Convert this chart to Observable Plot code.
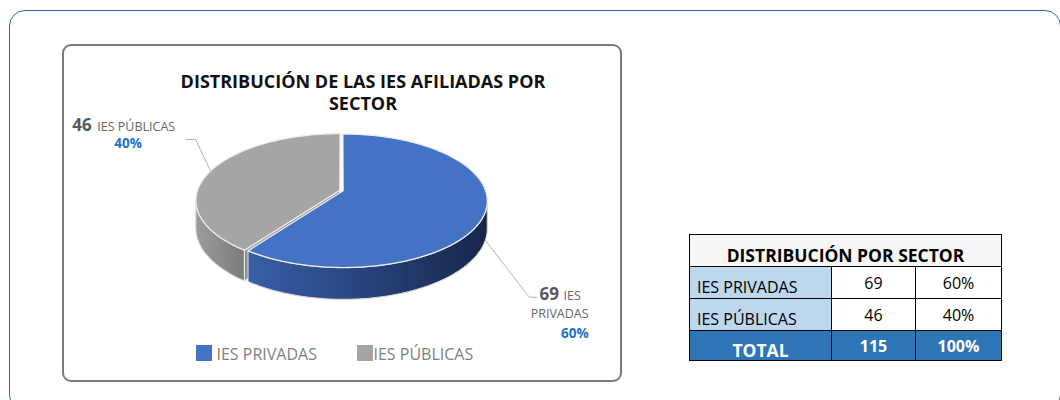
<!DOCTYPE html>
<html><head><meta charset="utf-8">
<script src="https://cdn.jsdelivr.net/npm/d3@7"></script>
<script src="https://cdn.jsdelivr.net/npm/@observablehq/plot@0.6"></script>
<style>
html,body{margin:0;padding:0;background:#fff;}
#page{position:relative;width:1060px;height:400px;overflow:hidden;font-family:"Open Sans",sans-serif;}
#outer{position:absolute;left:9px;top:10px;width:1052px;height:401px;box-sizing:border-box;border:1.6px solid #2b6cb3;border-radius:16px;}
#inner{position:absolute;left:62px;top:44px;width:560px;height:338px;box-sizing:border-box;border:2px solid #7b7b7b;border-radius:9px;}
#title{position:absolute;left:163px;top:70px;width:400px;text-align:center;font-weight:700;font-size:18px;line-height:22px;color:#111;}
#chart{position:absolute;left:0;top:0;}
.leg{position:absolute;top:345px;display:flex;align-items:flex-start;}
.leg .sw{width:16px;height:16px;margin-right:4px;}
.leg .tx{font-size:16px;line-height:16px;color:#7f7f7f;margin-top:0.8px;}
#tbl{position:absolute;left:689px;top:234px;border-collapse:collapse;table-layout:fixed;width:312px;border:1.5px solid #000;}
#tbl td{border:1px solid #000;padding:0;overflow:hidden;white-space:nowrap;color:#000;}
#tbl tr.hd td{height:30px;background:#f7f7f7;text-align:center;vertical-align:bottom;font-weight:700;font-size:17.5px;line-height:20px;padding-bottom:1px;}
#tbl tr.rw td{height:30px;font-size:16px;line-height:20px;}
#tbl td.lab{background:#bdd7ee;text-align:left;vertical-align:bottom;padding-left:7px;padding-bottom:1px;}
#tbl td.num{text-align:center;vertical-align:middle;}
#tbl tr.tt td{height:29px;background:#2e75b6;color:#fff;font-weight:700;font-size:16px;line-height:20px;text-align:center;vertical-align:middle;}
#tbl tr.tt td.ttl{font-size:17.5px;vertical-align:bottom;padding-bottom:0;}
</style></head>
<body>
<svg width="0" height="0" style="position:absolute">
  <defs>
    <linearGradient id="side0" x1="0" x2="1" y1="0" y2="0">
      <stop offset="0" stop-color="#3a5fa6"/>
      <stop offset="0.4" stop-color="#2a4884"/>
      <stop offset="1" stop-color="#17264a"/>
    </linearGradient>
    <linearGradient id="side1" x1="0" x2="1" y1="0" y2="0">
      <stop offset="0" stop-color="#9c9c9c"/>
      <stop offset="1" stop-color="#7b7b7b"/>
    </linearGradient>
  </defs>
</svg>
<div id="page">
  <div id="outer"></div>
  <div id="inner"></div>
  <div id="title"></div>
  <div id="chart"></div>
  <div id="legend"></div>
  <table id="tbl"><colgroup><col style="width:142px"><col style="width:84px"><col style="width:86px"></colgroup><tbody></tbody></table>
</div>
<script>
// ---- data ----
const categories = ["IES PRIVADAS", "IES PÚBLICAS"];
const values = [69, 46];
const colors = ["#4472C4", "#A5A5A5"];
const sideFills = ["url(#side0)", "url(#side1)"];
const faceFills = ["#2a4884", "#8f8f8f"];
const titleLines = ["DISTRIBUCIÓN DE LAS IES AFILIADAS POR", "SECTOR"];
const tableTitle = "DISTRIBUCIÓN POR SECTOR";
const totalLabel = "TOTAL";

const total = d3.sum(values);
const pct = values.map(v => Math.round(v / total * 100) + "%");

// ---- layout ----
const W = 1060, H = 400;
const CX = 341, CY = 190, R = 142.4, RY = 65.2, K = 0.15;
const DEPTH = 27 / RY, EXPLODE = 0.012;
const legendX = [196, 357];
// leader layout (pixel offsets)
const leaderLayout = [
  {elbow: [44, 57], end: [8, 0]},
  {elbow: [-15, -31.5], end: [-10, 0]}
];

function P(theta, ex, z = 0, r = 1) {
  const u = r * Math.sin(theta) + ex[0];
  const v = -r * Math.cos(theta) + ex[1];
  const s = 1 / (1 - K * v);
  return {x: u * s, y: (v + z) * s};
}
function arcPts(a0, a1, ex, z) {
  const n = Math.max(2, Math.ceil(Math.abs(a1 - a0) / (Math.PI / 180)));
  return d3.range(n + 1).map(i => P(a0 + (a1 - a0) * i / n, ex, z));
}

const arcs = d3.pie().sort(null).value(d => d)(values);
const TR = Math.acos(-K), TL = 2 * Math.PI - TR;

const slices = arcs.map((a, i) => {
  const a0 = a.startAngle, a1 = a.endAngle, m = (a0 + a1) / 2;
  const ex = [EXPLODE * Math.sin(m), -EXPLODE * Math.cos(m)];
  return {i, a0, a1, m, ex, mv: -Math.cos(m)};
});

const marks = [];
const order = slices.slice().sort((p, q) => p.mv - q.mv);
for (const s of order) {
  const {i, a0, a1, ex} = s;
  // side
  const s0 = Math.max(a0, TR), s1 = Math.min(a1, TL);
  if (s1 > s0) {
    const pts = arcPts(s0, s1, ex, 0).concat(arcPts(s1, s0, ex, DEPTH));
    marks.push(Plot.line(pts, {x: "x", y: "y", curve: "linear-closed", fill: sideFills[i], stroke: "#d6d6d6", strokeWidth: 1.1}));
  }
  // radial faces
  const faceAt = (a) => [P(a, ex, 0, 0), P(a, ex, 0), P(a, ex, DEPTH), P(a, ex, DEPTH, 0)];
  if (Math.sin(a0) < -1e-6) marks.push(Plot.line(faceAt(a0), {x: "x", y: "y", curve: "linear-closed", fill: faceFills[i], stroke: "#e6e6e6", strokeWidth: 1.1}));
  if (Math.sin(a1) > 1e-6) marks.push(Plot.line(faceAt(a1), {x: "x", y: "y", curve: "linear-closed", fill: faceFills[i], stroke: "#e6e6e6", strokeWidth: 1.1}));
  // top
  const top = [P(0, ex, 0, 0)].concat(arcPts(a0, a1, ex, 0));
  marks.push(Plot.line(top, {x: "x", y: "y", curve: "linear-closed", fill: colors[i], stroke: "#ececec", strokeWidth: 1.3}));
}

// leaders + labels
slices.forEach(s => {
  const front = s.mv > 0;
  const anc = P(s.m, s.ex, front ? DEPTH : 0);
  const L = leaderLayout[s.i];
  const elb = {x: anc.x + L.elbow[0] / R, y: anc.y + L.elbow[1] / RY};
  const end = {x: elb.x + L.end[0] / R, y: elb.y + L.end[1] / RY};
  marks.push(Plot.line([anc, elb, end], {x: "x", y: "y", stroke: "#b3b3b3", strokeWidth: 1, strokeLinecap: "butt"}));
  s.end = end;
});

const common = {x: "x", y: "y", lineAnchor: "bottom", fontFamily: "Open Sans"};
// slice 0 (right side, IES PRIVADAS)
{
  const e = slices[0].end, d = [e];
  const words = categories[0].split(" ");
  marks.push(Plot.text(d, {...common, text: () => String(values[0]), textAnchor: "start", dx: 2.3, dy: 2.3, fontSize: 17, fontWeight: 700, fill: "#595959"}));
  marks.push(Plot.text(d, {...common, text: () => words[0], textAnchor: "start", dx: 26.3, dy: 2.3, fontSize: 12.5, fill: "#666"}));
  marks.push(Plot.text(d, {...common, text: () => words.slice(1).join(" "), textAnchor: "end", dx: 51.3, dy: 20.3, fontSize: 12.5, fill: "#666"}));
  marks.push(Plot.text(d, {...common, text: () => pct[0], textAnchor: "end", dx: 51.3, dy: 40.3, fontSize: 13.5, fontWeight: 700, fill: "#1f72c4"}));
}
// slice 1 (left side, IES PÚBLICAS)
{
  const e = slices[1].end, d = [e];
  marks.push(Plot.text(d, {...common, text: () => String(values[1]), textAnchor: "start", dx: -113.3, dy: -8.3, fontSize: 17, fontWeight: 700, fill: "#595959"}));
  marks.push(Plot.text(d, {...common, text: () => categories[1], textAnchor: "start", dx: -88.3, dy: -8.3, fontSize: 12.5, fill: "#666"}));
  marks.push(Plot.text(d, {...common, text: () => pct[1], textAnchor: "middle", dx: -57.5, dy: 8.7, fontSize: 13.5, fontWeight: 700, fill: "#1f72c4"}));
}

const svg = Plot.plot({
  width: W, height: H, margin: 0,
  x: {type: "linear", domain: [-1, 1], range: [CX - R, CX + R], axis: null},
  y: {type: "linear", domain: [-1, 1], range: [CY - RY, CY + RY], axis: null},
  style: {background: "transparent", overflow: "visible"},
  marks
});
document.getElementById("chart").appendChild(svg);

// title
document.getElementById("title").innerHTML = titleLines.join("<br>");

// legend
const leg = document.getElementById("legend");
categories.forEach((c, i) => {
  const el = document.createElement("div");
  el.className = "leg";
  el.style.left = legendX[i] + "px";
  el.innerHTML = `<div class="sw" style="background:${colors[i]};margin-right:${i ? 0.5 : 4.5}px"></div><div class="tx">${c}</div>`;
  leg.appendChild(el);
});

// table
const tb = document.querySelector("#tbl tbody");
let html = `<tr class="hd"><td colspan="3">${tableTitle}</td></tr>`;
categories.forEach((c, i) => {
  html += `<tr class="rw"><td class="lab">${c}</td><td class="num">${values[i]}</td><td class="num">${pct[i]}</td></tr>`;
});
html += `<tr class="tt"><td class="ttl">${totalLabel}</td><td>${total}</td><td>${Math.round(d3.sum(values) / total * 100)}%</td></tr>`;
tb.innerHTML = html;
</script>
</body></html>
